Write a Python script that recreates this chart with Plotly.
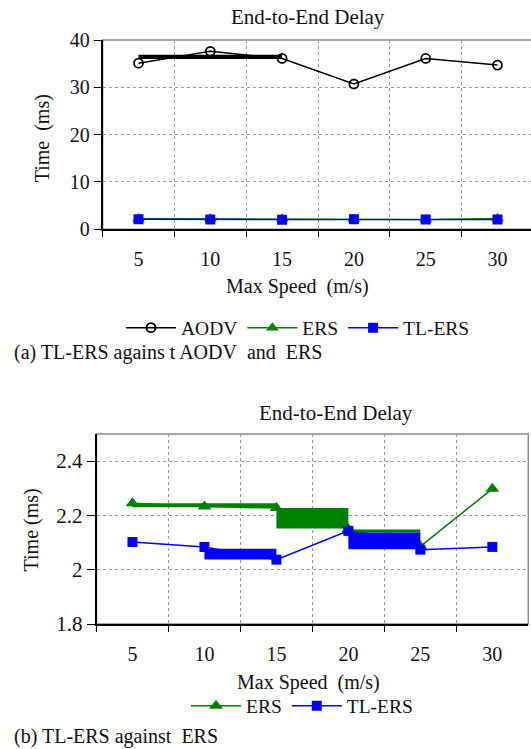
import plotly.graph_objects as go

# ---------------- data ----------------
speeds = ["5", "10", "15", "20", "25", "30"]
aodv = [35.1, 37.6, 36.1, 30.7, 36.1, 34.7]
ers = [2.245, 2.233, 2.227, 2.15, 2.086, 2.298]
tlers = [2.102, 2.084, 2.037, 2.143, 2.074, 2.084]

# thick stroke artefacts visible in the original rendering: (from, to, low, high)
aodv_bands = [("5", "15", 36.0, 36.9)]
ers_bands = [("5", "15", 2.230, 2.245), ("15", "20", 2.152, 2.227), ("20", "25", 2.137, 2.148)]
tlers_bands = [("10", "15", 2.038, 2.077), ("20", "25", 2.075, 2.137)]

top_yticks = [0, 10, 20, 30, 40]
bot_yticks = [1.8, 2.0, 2.2, 2.4]
bot_yticktext = ["1.8", "2", "2.2", "2.4"]

W, H = 531, 749
FONT = "'Liberation Serif', 'Times New Roman', Times, serif"
GREEN = "#008000"
BLUE = "#0000FF"
NB = "\u00a0"


def fx(px):
    return px / W


def fy(py):
    return 1 - py / H


fig = go.Figure()


def band_traces(bands, color, xa, ya):
    for x0, x1, lo, hi in bands:
        fig.add_trace(go.Scatter(x=[x0, x1, x1, x0, x0], y=[lo, lo, hi, hi, lo],
                                 mode="lines", fill="toself", fillcolor=color,
                                 line=dict(width=0, color=color), showlegend=False,
                                 hoverinfo="skip", xaxis=xa, yaxis=ya))


# ---- top chart ----
band_traces(aodv_bands, "black", "x", "y")
fig.add_trace(go.Scatter(x=speeds, y=aodv, name="AODV", mode="lines+markers",
                         line=dict(color="black", width=1.5),
                         marker=dict(symbol="circle-open", size=9, color="black", line=dict(width=1.8)),
                         xaxis="x", yaxis="y", legend="legend"))
fig.add_trace(go.Scatter(x=speeds, y=ers, name="ERS", mode="lines+markers",
                         line=dict(color=GREEN, width=1.5),
                         marker=dict(symbol="triangle-up", size=11, color=GREEN),
                         xaxis="x", yaxis="y", legend="legend"))
fig.add_trace(go.Scatter(x=speeds, y=tlers, name="TL-ERS", mode="lines+markers",
                         line=dict(color=BLUE, width=1.5),
                         marker=dict(symbol="square", size=10, color=BLUE),
                         xaxis="x", yaxis="y", legend="legend"))

# ---- bottom chart ----
band_traces(ers_bands, GREEN, "x2", "y2")
fig.add_trace(go.Scatter(x=speeds, y=ers, name="ERS", mode="lines+markers",
                         line=dict(color=GREEN, width=1.5),
                         marker=dict(symbol="triangle-up", size=12, color=GREEN),
                         xaxis="x2", yaxis="y2", legend="legend2"))
band_traces(tlers_bands, BLUE, "x2", "y2")
fig.add_trace(go.Scatter(x=speeds, y=tlers, name="TL-ERS", mode="lines+markers",
                         line=dict(color=BLUE, width=1.5),
                         marker=dict(symbol="square", size=10, color=BLUE),
                         xaxis="x2", yaxis="y2", legend="legend2"))

# top plot runs past the right edge of the picture (102.6 .. 533.4 px)
top_left, top_right_full = 102.6, 533.4
cat_w = (top_right_full - top_left) / len(speeds)
top_x = [fx(top_left), 1.0]
top_xmax = -0.5 + (W - top_left) / cat_w
top_y = [fy(229.3), fy(40)]
bot_x = [fx(96.5), fx(528.3)]
bot_y = [fy(624), fy(434)]

grid = dict(showgrid=True, gridcolor="#9a9a9a", griddash="dot", gridwidth=1)


def xcommon(size):
    return dict(type="category", tickson="boundaries", ticks="outside", ticklen=6,
                tickcolor="black", showline=True, linecolor="black", linewidth=1.5,
                tickfont=dict(family=FONT, size=size, color="#111"), zeroline=False,
                ticklabelstandoff=11, automargin=False, categoryorder="array",
                categoryarray=speeds, **grid)


def ycommon(size):
    return dict(ticks="outside", tickcolor="black", showline=True, linecolor="black", linewidth=1.5,
                tickfont=dict(family=FONT, size=size, color="#111"), zeroline=False,
                automargin=False, **grid)


legfont = dict(family=FONT, size=19.5, color="#111")
fig.update_layout(
    width=W, height=H, margin=dict(l=0, r=0, t=0, b=0, autoexpand=False),
    paper_bgcolor="white", plot_bgcolor="white",
    font=dict(family=FONT, color="#111", size=20),
    xaxis=dict(domain=top_x, anchor="y", range=[-0.5, top_xmax], **xcommon(20)),
    yaxis=dict(domain=top_y, anchor="x", range=[0, 40], tickvals=top_yticks, ticklen=7, **ycommon(20)),
    xaxis2=dict(domain=bot_x, anchor="y2", range=[-0.5, 5.5], **xcommon(20)),
    yaxis2=dict(domain=bot_y, anchor="x2", range=[1.8, 2.5], tickvals=bot_yticks,
                ticktext=bot_yticktext, ticklen=8, **ycommon(21)),
    legend=dict(orientation="h", x=fx(298), xanchor="center", y=fy(328), yanchor="middle",
                font=legfont, itemwidth=50, tracegroupgap=0, bgcolor="rgba(0,0,0,0)"),
    legend2=dict(orientation="h", x=fx(302), xanchor="center", y=fy(706), yanchor="middle",
                 font=legfont, itemwidth=50, tracegroupgap=0, bgcolor="rgba(0,0,0,0)"),
)

# gray frame (top / right)
for xd, yd in [([fx(top_left), fx(top_right_full)], top_y), (bot_x, bot_y)]:
    fig.add_shape(type="rect", xref="paper", yref="paper", x0=xd[0], x1=xd[1], y0=yd[0], y1=yd[1],
                  line=dict(color="#8a8a8a", width=1.5), layer="below")

ann = [
    dict(text="End-to-End Delay", x=308, y=17, size=21),
    dict(text="Max Speed" + NB + NB + "(m/s)", x=297, y=287, size=20),
    dict(text="End-to-End Delay", x=336, y=413, size=21),
    dict(text="Max Speed" + NB + NB + "(m/s)", x=308, y=682, size=20),
]
for a in ann:
    fig.add_annotation(text=a["text"], x=fx(a["x"]), y=fy(a["y"]), xref="paper", yref="paper",
                       showarrow=False, xanchor="center", yanchor="middle",
                       font=dict(family=FONT, size=a["size"], color="#111"))
for txt, x, y in [("Time" + NB + NB + "(ms)", 42.3, 138), ("Time (ms)", 30.5, 530)]:
    fig.add_annotation(text=txt, x=fx(x), y=fy(y), xref="paper", yref="paper", showarrow=False,
                       textangle=-90, xanchor="center", yanchor="middle",
                       font=dict(family=FONT, size=20, color="#111"))
for txt, y in [("(a) TL-ERS agains t AODV" + NB + " and" + NB + " ERS", 352.7),
               ("(b) TL-ERS against" + NB + " ERS", 736.7)]:
    fig.add_annotation(text=txt, x=fx(11.9), y=fy(y), xref="paper", yref="paper", showarrow=False,
                       xanchor="left", yanchor="middle",
                       font=dict(family=FONT, size=20, color="#111"))

fig.write_html("out.html", config={"displayModeBar": False},
               post_script="document.body.style.margin='0';")
